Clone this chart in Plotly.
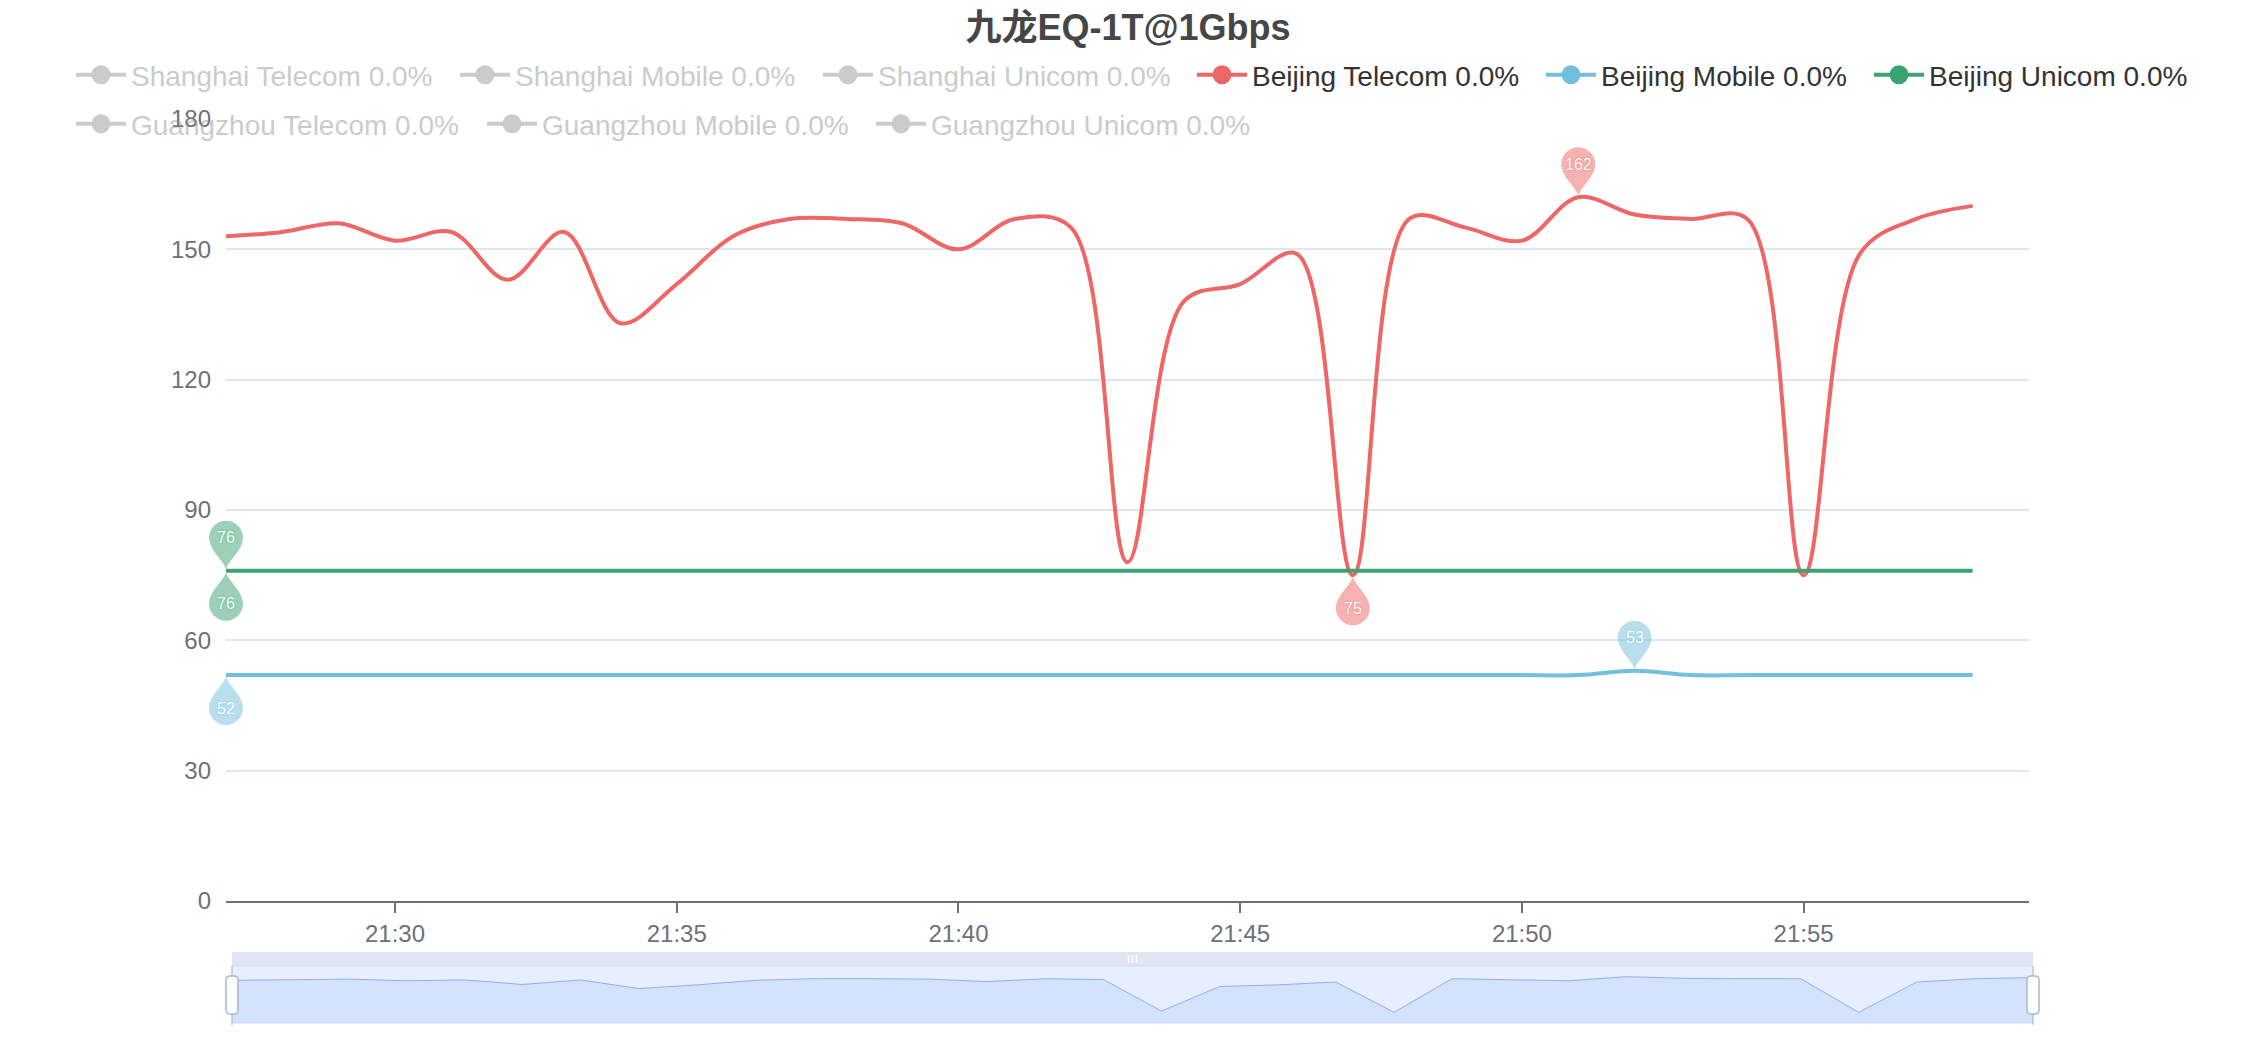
import plotly.graph_objects as go
from datetime import datetime

W, H = 2256, 1040
FONT = "Liberation Sans, Arial, Helvetica, Noto Sans CJK SC, sans-serif"

# ---------------- data ----------------
DATE = "2024-01-01 "
minutes = ["21:27", "21:28", "21:29", "21:30", "21:31", "21:32", "21:33", "21:34",
           "21:35", "21:36", "21:37", "21:38", "21:39", "21:40", "21:41", "21:42",
           "21:43", "21:44", "21:45", "21:46", "21:47", "21:48", "21:49", "21:50",
           "21:51", "21:52", "21:53", "21:54", "21:55", "21:56", "21:57", "21:58"]
x_axis_end = "21:59"

series_names = ["Shanghai Telecom", "Shanghai Mobile", "Shanghai Unicom",
                "Beijing Telecom", "Beijing Mobile", "Beijing Unicom",
                "Guangzhou Telecom", "Guangzhou Mobile", "Guangzhou Unicom"]
loss_rates = ["0.0%", "0.0%", "0.0%", "0.0%", "0.0%", "0.0%", "0.0%", "0.0%", "0.0%"]
series_active = [False, False, False, True, True, True, False, False, False]

beijing_telecom = [153, 154, 156, 152, 154, 143, 154, 133, 142, 153, 157, 157, 156, 150, 157, 155,
                   78, 138, 142, 149, 75, 157, 155, 152, 162, 158, 157, 157, 75, 149, 157, 160]
beijing_mobile = [52, 52, 52, 52, 52, 52, 52, 52, 52, 52, 52, 52, 52, 52, 52, 52,
                  52, 52, 52, 52, 52, 52, 52, 52, 52, 53, 52, 52, 52, 52, 52, 52]
beijing_unicom = [76, 76, 76, 76, 76, 76, 76, 76, 76, 76, 76, 76, 76, 76, 76, 76,
                  76, 76, 76, 76, 76, 76, 76, 76, 76, 76, 76, 76, 76, 76, 76, 76]

y_ticks = [0, 30, 60, 90, 120, 150, 180]
x_tick_labels = ["21:30", "21:35", "21:40", "21:45", "21:50", "21:55"]
title_text = "九龙EQ-1T@1Gbps"

# ---------------- styling / layout constants ----------------
RED, BLUE, GREEN = "#ee6666", "#73c0de", "#3ba272"
INACTIVE = "#999999"
series_colors = [INACTIVE, INACTIVE, INACTIVE, RED, BLUE, GREEN, INACTIVE, INACTIVE, INACTIVE]

ML, MR, MT, MB = 226, 216, 119, 17
PW, PH = W - ML - MR, H - MT - MB


def fx(px):
    return (px - ML) / PW


def fy(py):
    return (H - MB - py) / PH


PLOT_R, PLOT_B = 2029, 901
SL_L, SL_R, SL_BAR_T, SL_WIN_T, SL_B = 232, 2033, 952, 966, 1023

legend_text_x = [131, 515, 878, 1252, 1601, 1929, 131, 542, 931]
legend_row_y = [75, 75, 75, 75, 75, 75, 124, 124, 124]

x_time = [DATE + m for m in minutes]
x_range = [x_time[0], DATE + x_axis_end]

fig = go.Figure()

# main lines
data_map = {"Beijing Telecom": beijing_telecom, "Beijing Mobile": beijing_mobile,
            "Beijing Unicom": beijing_unicom}
for name, col in zip(series_names, series_colors):
    if name in data_map:
        fig.add_trace(go.Scatter(
            x=x_time, y=data_map[name], mode="lines", legendgroup=name, showlegend=False,
            line=dict(color=col, width=4, shape="spline", smoothing=1.0),
            hoverinfo="skip"))

# legend entries (one legend per entry to mimic the ECharts layout)
legends = {}
for i, (name, rate, active, col) in enumerate(zip(series_names, loss_rates, series_active, series_colors)):
    lid = "legend" if i == 0 else f"legend{i + 1}"
    fig.add_trace(go.Scatter(
        x=[None], y=[None], mode="lines+markers", name=f"{name} {rate}",
        legendgroup=name, legend=lid,
        visible=True if active else "legendonly",
        line=dict(color=col, width=4),
        marker=dict(color=col, size=16, line=dict(color=col, width=3))))
    legends[lid] = dict(
        x=(legend_text_x[i] - 60) / W, xref="container", xanchor="left",
        y=1 - legend_row_y[i] / H, yref="container", yanchor="middle",
        orientation="h", itemwidth=50, bgcolor="rgba(0,0,0,0)", borderwidth=0,
        font=dict(family=FONT, size=28, color="#333333" if active else INACTIVE))

# slider data shadow (first visible series)
lo, hi = min(beijing_telecom), max(beijing_telecom)
pad = (hi - lo) * 0.3
fig.add_trace(go.Scatter(
    x=x_time, y=beijing_telecom, xaxis="x2", yaxis="y2", mode="lines",
    line=dict(color="#8fb0f7", width=1), fill="tozeroy",
    fillcolor="rgba(143,176,247,0.2)", showlegend=False, hoverinfo="skip"))


# ---------------- mark points (pins) ----------------
def rgba(hexcol, a):
    h = hexcol.lstrip("#")
    return f"rgba({int(h[0:2], 16)},{int(h[2:4], 16)},{int(h[4:6], 16)},{a})"


def to_dt(s):
    return datetime.strptime(s, "%Y-%m-%d %H:%M")


t0, t1 = to_dt(x_range[0]), to_dt(x_range[1])


def x_domain_frac(t):
    # position along the x axis domain (lets the pin hang over the plot edge unclipped)
    return (to_dt(t) - t0).total_seconds() / (t1 - t0).total_seconds()


shapes = []
annotations = []
R_PIN, H_PIN = 17, 33


def add_pin(t, v, color, up):
    s = 1 if up else -1
    r, h = R_PIN, H_PIN
    k = 0.552
    path = (f"M 0,{s*2} C -4,{s*12} {-r},{s*(h - r*0.7)} {-r},{s*h} "
            f"C {-r},{s*(h + r*k)} {-r*k},{s*(h + r)} 0,{s*(h + r)} "
            f"C {r*k},{s*(h + r)} {r},{s*(h + r*k)} {r},{s*h} "
            f"C {r},{s*(h - r*0.7)} 4,{s*12} 0,{s*2} Z")
    shapes.append(dict(type="path", xref="x domain", yref="y", xsizemode="pixel",
                       ysizemode="pixel", xanchor=x_domain_frac(t), yanchor=v, path=path,
                       fillcolor=rgba(color, 0.5), line=dict(width=0), layer="above"))
    annotations.append(dict(x=t, y=v, xref="x", yref="y", yshift=s * h, showarrow=False,
                            text=str(v), font=dict(family=FONT, size=16, color="white",
                                                   shadow=f"0px 0px 2px {color}")))


for vals, col in [(beijing_telecom, RED), (beijing_mobile, BLUE), (beijing_unicom, GREEN)]:
    imax = vals.index(max(vals))
    imin = vals.index(min(vals))
    add_pin(x_time[imax], vals[imax], col, True)
    add_pin(x_time[imin], vals[imin], col, False)

# ---------------- slider decoration ----------------
shapes.insert(0, dict(type="rect", xref="paper", yref="paper", x0=fx(SL_L), x1=fx(SL_R),
                      y0=fy(SL_WIN_T), y1=fy(SL_BAR_T), fillcolor="#dfe5f3",
                      line=dict(width=0), layer="below"))
shapes.insert(1, dict(type="rect", xref="paper", yref="paper", x0=fx(SL_L), x1=fx(SL_R),
                      y0=fy(SL_B), y1=fy(SL_WIN_T), fillcolor="rgba(135,175,255,0.2)",
                      line=dict(color="#d2dbee", width=1), layer="below"))
mid = (SL_L + SL_R) / 2
for dx in (-4, 0, 4):
    shapes.append(dict(type="line", xref="paper", yref="paper", x0=fx(mid + dx), x1=fx(mid + dx),
                       y0=fy(963), y1=fy(955), line=dict(color="white", width=1.5)))
for hx in (SL_L, SL_R):
    shapes.append(dict(type="line", xref="paper", yref="paper", x0=fx(hx), x1=fx(hx),
                       y0=fy(1025), y1=fy(SL_WIN_T), line=dict(color="#acb8d1", width=1)))
    shapes.append(dict(type="path", xref="paper", yref="paper", xsizemode="pixel",
                       ysizemode="pixel", xanchor=fx(hx), yanchor=fy(995),
                       path="M -6,-15 Q -6,-19 -2,-19 L 2,-19 Q 6,-19 6,-15 L 6,15 "
                            "Q 6,19 2,19 L -2,19 Q -6,19 -6,15 Z",
                       fillcolor="white", line=dict(color="#acb8d1", width=1.5), layer="above"))

fig.update_layout(
    width=W, height=H, autosize=False,
    margin=dict(l=ML, r=MR, t=MT, b=MB, autoexpand=False),
    paper_bgcolor="white", plot_bgcolor="white",
    font=dict(family=FONT),
    hovermode=False,
    title=dict(text=title_text, x=0.5, xref="container", xanchor="center",
               y=1 - 27 / H, yref="container", yanchor="middle",
               font=dict(family=FONT, size=36, color="#464646", weight="bold")),
    xaxis=dict(type="date", domain=[0, fx(PLOT_R)], range=x_range,
               tickvals=[DATE + t for t in x_tick_labels], ticktext=x_tick_labels,
               showgrid=False, zeroline=False, showline=True, linecolor="#6E7079", linewidth=2,
               ticks="outside", ticklen=10, tickwidth=2, tickcolor="#6E7079",
               tickfont=dict(family=FONT, size=24, color="#6E7079"), fixedrange=True),
    yaxis=dict(domain=[fy(PLOT_B), 1], range=[y_ticks[0], y_ticks[-1]], tickvals=y_ticks,
               showgrid=True, gridcolor="#E0E6F1", gridwidth=2, zeroline=False, showline=False,
               ticks="", ticklabelstandoff=14,
               tickfont=dict(family=FONT, size=24, color="#6E7079"), fixedrange=True),
    xaxis2=dict(type="date", domain=[fx(SL_L), fx(SL_R)], range=[x_time[0], x_time[-1]],
                anchor="y2", visible=False, fixedrange=True),
    yaxis2=dict(domain=[0, fy(SL_WIN_T)], range=[lo - pad, hi + pad], anchor="x2",
                visible=False, fixedrange=True),
    shapes=shapes,
    annotations=annotations,
    **legends,
)

fig.write_html("out.html", config={"displayModeBar": False},
               post_script="document.body.style.margin='0';")
